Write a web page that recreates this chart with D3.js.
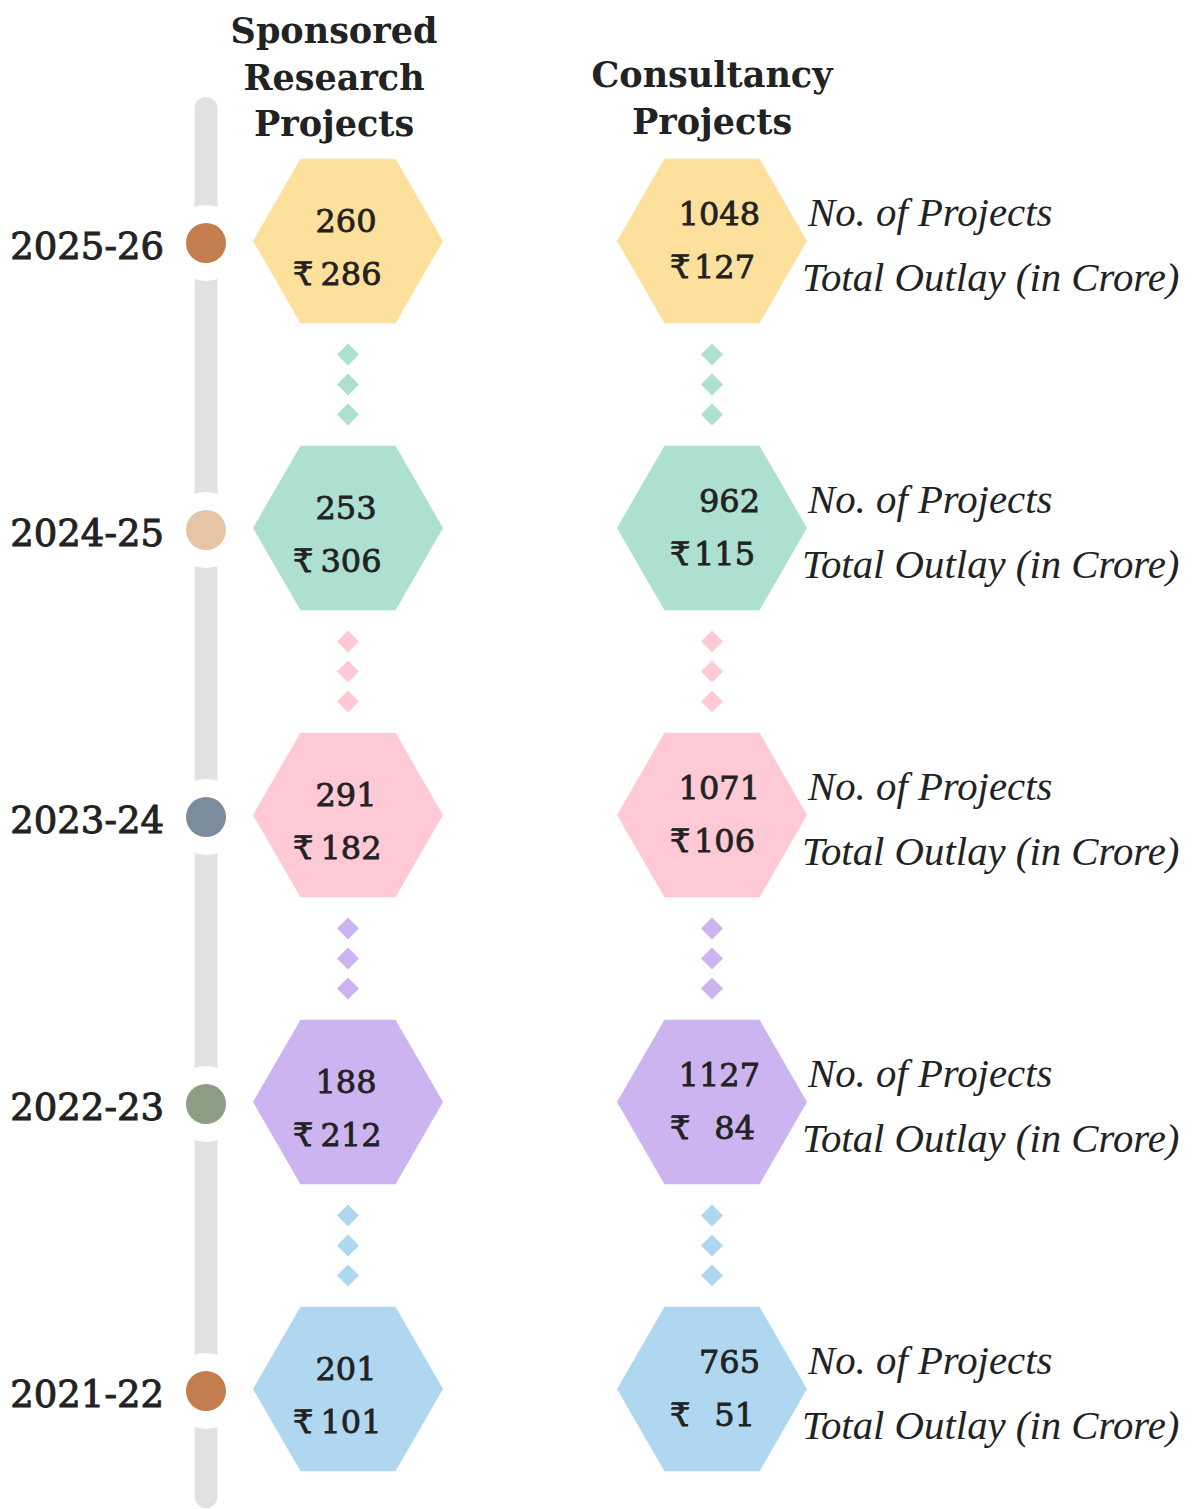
<!DOCTYPE html>
<html>
<head>
<meta charset="utf-8">
<script src="https://cdn.jsdelivr.net/npm/d3@7"></script>
<style>
  html, body { margin: 0; padding: 0; background: #fff; }
  svg { display: block; }
</style>
</head>
<body>
<div class="container"></div>
<script>
// data, newest year at the top
const years = ["2025-26", "2024-25", "2023-24", "2022-23", "2021-22"];
const sponsoredCount = [260, 253, 291, 188, 201];
const sponsoredOutlay = [286, 306, 182, 212, 101];
const consultancyCount = [1048, 962, 1071, 1127, 765];
const consultancyOutlay = [127, 115, 106, 84, 51];
const columns = ["Sponsored Research Projects", "Consultancy Projects"];
const hexColors = ["#fde09c", "#ade0d1", "#ffc9d6", "#cbb4ef", "#afd8f0"];
const dotColors = ["#c47d4f", "#e5c5a5", "#7b8d9c", "#8d9d83", "#c47d4f"];
const legendLabels = ["No. of Projects", "Total Outlay (in Crore)"];

const w = 1197;
const h = 1509;

const svg = d3.select(".container")
    .append("svg")
    .attr("width", w)
    .attr("height", h)
    .attr("viewBox", `0 0 ${w} ${h}`);

const serif = "'DejaVu Serif', serif";
const ink = "#222";

// rows: one per year, columns: sponsored / consultancy
const yScale = d3.scalePoint().domain(years).range([241, 1389]);
const xScale = d3.scalePoint().domain(columns).range([348, 712]);
const timelineX = 206;
const hexR = 95;

// grey timeline bar
svg.append("rect")
    .attr("x", timelineX - 11.5)
    .attr("y", 97)
    .attr("width", 23)
    .attr("height", 1411)
    .attr("rx", 11.5)
    .attr("fill", "#e2e2e2");

// year dots with a white ring cutting the bar
const dots = svg.append("g").selectAll("g")
    .data(years)
    .join("g")
    .attr("transform", d => `translate(${timelineX}, ${yScale(d) + 2})`);

dots.append("circle").attr("r", 38).attr("fill", "#fff");
dots.append("circle").attr("r", 20).attr("fill", (d, i) => dotColors[i]);

// semi-bold look: book weight with a thin outline
function semiBold(sel, size) {
    return sel
        .attr("font-family", serif)
        .attr("font-size", size)
        .attr("fill", ink)
        .attr("stroke", ink)
        .attr("stroke-width", 0.8);
}

// year labels to the left of the bar
semiBold(svg.append("g").selectAll("text")
    .data(years)
    .join("text"), 37)
    .attr("x", 164)
    .attr("y", d => yScale(d) + 5)
    .attr("text-anchor", "end")
    .attr("dominant-baseline", "central")
    .attr("stroke-width", 1)
    .text(d => d);

// column headers
const headerLines = [["Sponsored", "Research", "Projects"], ["Consultancy", "Projects"]];
const headerX = [334, 712];
const headerTop = [43, 87];
headerLines.forEach((lines, c) => {
    svg.append("text")
        .attr("text-anchor", "middle")
        .attr("font-family", serif)
        .attr("font-weight", "bold")
        .attr("font-size", 35)
        .attr("fill", ink)
        .selectAll("tspan")
        .data(lines)
        .join("tspan")
        .attr("x", headerX[c])
        .attr("y", (d, i) => headerTop[c] + i * 46.5)
        .text(d => d);
});

// flat-topped hexagon path
const hexPath = d3.line()(d3.range(6).map(k => {
    const a = Math.PI / 3 * k;
    return [hexR * Math.cos(a), hexR * Math.sin(a)];
})) + "Z";

// dotted diamond connectors between consecutive rows, coloured like the row below
const links = d3.range(1, years.length);
columns.forEach(col => {
    links.forEach(i => {
        const mid = (yScale(years[i - 1]) + yScale(years[i])) / 2;
        svg.append("g").selectAll("path")
            .data([-30, 0, 30])
            .join("path")
            .attr("d", "M0,-11L11,0L0,11L-11,0Z")
            .attr("transform", d => `translate(${xScale(col)}, ${mid + d})`)
            .attr("fill", hexColors[i]);
    });
});

// hexagons
columns.forEach(col => {
    svg.append("g").selectAll("path")
        .data(years)
        .join("path")
        .attr("d", hexPath)
        .attr("transform", d => `translate(${xScale(col)}, ${yScale(d)})`)
        .attr("fill", (d, i) => hexColors[i]);
});

function numText(sel) {
    return semiBold(sel, 32).attr("dominant-baseline", "central");
}

// sponsored research values
const sx = xScale(columns[0]);
numText(svg.append("g").selectAll("text").data(years).join("text"))
    .attr("x", sx - 2)
    .attr("y", d => yScale(d) - 20)
    .attr("text-anchor", "middle")
    .text((d, i) => sponsoredCount[i]);
numText(svg.append("g").selectAll("text").data(years).join("text"))
    .attr("x", sx - 55)
    .attr("y", d => yScale(d) + 33)
    .attr("text-anchor", "start")
    .text("₹");
numText(svg.append("g").selectAll("text").data(years).join("text"))
    .attr("x", sx + 3)
    .attr("y", d => yScale(d) + 33)
    .attr("text-anchor", "middle")
    .text((d, i) => sponsoredOutlay[i]);

// consultancy values, right aligned
const cx = xScale(columns[1]);
numText(svg.append("g").selectAll("text").data(years).join("text"))
    .attr("x", cx + 48)
    .attr("y", d => yScale(d) - 27)
    .attr("text-anchor", "end")
    .text((d, i) => consultancyCount[i]);
numText(svg.append("g").selectAll("text").data(years).join("text"))
    .attr("x", cx - 42)
    .attr("y", d => yScale(d) + 26)
    .attr("text-anchor", "start")
    .text("₹");
numText(svg.append("g").selectAll("text").data(years).join("text"))
    .attr("x", cx + 43)
    .attr("y", d => yScale(d) + 26)
    .attr("text-anchor", "end")
    .text((d, i) => consultancyOutlay[i]);

// italic legend labels beside each consultancy hexagon
const legendX = [808, 802];
const legendDy = [-29, 36];
legendLabels.forEach((lab, j) => {
    svg.append("g").selectAll("text")
        .data(years)
        .join("text")
        .attr("x", legendX[j])
        .attr("y", d => yScale(d) + legendDy[j])
        .attr("dominant-baseline", "central")
        .attr("font-family", "'Liberation Serif', serif")
        .attr("font-style", "italic")
        .attr("font-size", 40.8)
        .attr("fill", ink)
        .text(lab);
});
</script>
</body>
</html>
